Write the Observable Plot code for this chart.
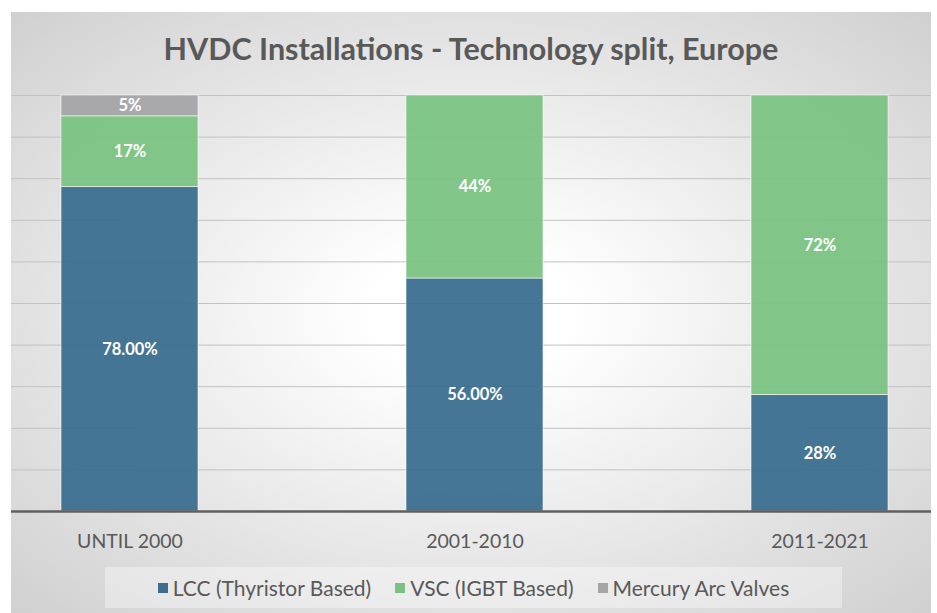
<!DOCTYPE html>
<html><head><meta charset="utf-8">
<script src="https://cdn.jsdelivr.net/npm/d3@7"></script>
<script src="https://cdn.jsdelivr.net/npm/@observablehq/plot@0.6"></script>
<style>
body{margin:0;background:#fff;font-family:Lato,sans-serif;}
#chart{position:absolute;left:11px;top:12px;width:920px;height:601px;overflow:hidden;
  background:radial-gradient(ellipse farthest-corner at 50% 50%, #ffffff 0%, #ffffff 15%, #d0d0d0 100%);}
#title{position:absolute;left:0;top:18px;width:920px;text-align:center;font-weight:bold;font-size:30.5px;color:#595959;}
#plot{position:absolute;left:0;top:73px;}
#legend{position:absolute;left:94px;top:555px;width:737px;height:41px;background:rgba(255,255,255,0.35);
  display:flex;align-items:center;justify-content:center;gap:24px;font-size:21px;color:#595959;}
#legend .item{display:flex;align-items:center;gap:5px;}
#legend .sw{width:10px;height:10px;display:inline-block;}
</style>
</head><body>
<div id="chart">
  <div id="title">HVDC Installations - Technology split, Europe</div>
  <div id="plot"></div>
  <div id="legend"></div>
</div>
<script>
const categories = ["UNTIL 2000", "2001-2010", "2011-2021"];
const series = ["LCC (Thyristor Based)", "VSC (IGBT Based)", "Mercury Arc Valves"];
const colors = ["#3a6d8e", "#7bc282", "#a5a5a8"];
const lccValues = [78, 56, 28];
const vscValues = [17, 44, 72];
const mercuryValues = [5, 0, 0];
const lccLabels = ["78.00%", "56.00%", "28%"];
const vscLabels = ["17%", "44%", "72%"];
const mercuryLabels = ["5%", "", ""];
const gridTicks = [10, 20, 30, 40, 50, 60, 70, 80, 90, 100];

const valueSets = [lccValues, vscValues, mercuryValues];
const labelSets = [lccLabels, vscLabels, mercuryLabels];
const data = [];
series.forEach((s, si) => {
  categories.forEach((c, ci) => {
    const v = valueSets[si][ci];
    if (v > 0) data.push({category: c, series: s, value: v, label: labelSets[si][ci]});
  });
});

const chart = Plot.plot({
  width: 920,
  height: 470,
  marginTop: 10,
  marginBottom: 44,
  marginLeft: 0,
  marginRight: 0,
  style: {background: "transparent", fontFamily: "Lato, sans-serif", color: "#595959"},
  x: {domain: categories, range: [-5, 931], paddingInner: 0.603, paddingOuter: 0.156, axis: null},
  y: {domain: [0, 100], axis: null},
  color: {domain: series, range: colors},
  marks: [
    Plot.ruleY(gridTicks, {stroke: "#c2c2c2", strokeWidth: 1}),
    Plot.barY(data, Plot.stackY({x: "category", y: "value", z: "series", fill: "series", order: series,
      fillOpacity: 0.94, stroke: "#ffffff", strokeOpacity: 0.55, strokeWidth: 1})),
    Plot.text(data, Plot.stackY({x: "category", y: "value", z: "series", order: series, text: "label",
      fill: "#ffffff", fontWeight: "bold", fontSize: 16.5})),
    Plot.ruleY([0], {stroke: "#606060", strokeWidth: 2.5}),
    Plot.axisX({tickSize: 0, tickPadding: 23, fontSize: 19.5, fill: "#595959", label: null})
  ]
});
document.getElementById("plot").appendChild(chart);

const legend = document.getElementById("legend");
series.forEach((s, i) => {
  const item = document.createElement("div");
  item.className = "item";
  const sw = document.createElement("span");
  sw.className = "sw";
  sw.style.background = colors[i];
  const t = document.createElement("span");
  t.textContent = s;
  item.appendChild(sw); item.appendChild(t);
  legend.appendChild(item);
});
</script>
</body></html>
